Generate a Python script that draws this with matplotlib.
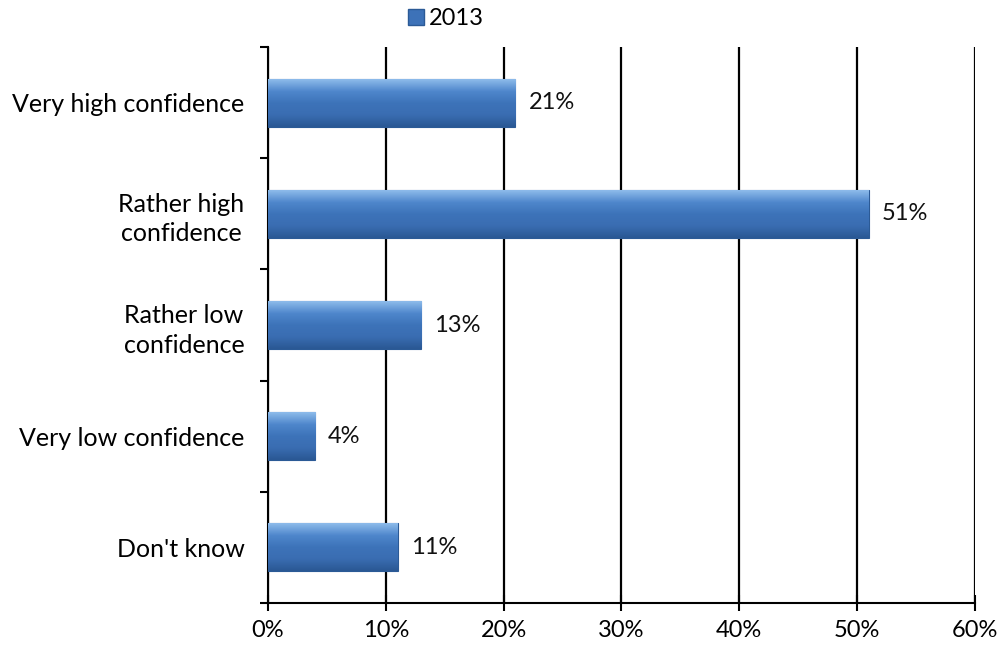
import matplotlib
matplotlib.use("Agg")
import matplotlib.pyplot as plt
import numpy as np
from matplotlib.patches import Patch
from matplotlib.colors import LinearSegmentedColormap

categories = ["Very high confidence", "Rather high\nconfidence", "Rather low\nconfidence",
              "Very low confidence", "Don't know"]
values = [21, 51, 13, 4, 11]
series_name = "2013"
xticks = [0, 10, 20, 30, 40, 50, 60]
xticklabels = ["0%", "10%", "20%", "30%", "40%", "50%", "60%"]

plt.rcParams['font.family'] = ['Lato', 'DejaVu Sans']

fig = plt.figure(figsize=(10.02, 6.55), dpi=100)
ax = fig.add_axes([0.2675, 0.0794, 0.7055, 0.8488])

n = len(categories)
ypos = np.arange(n)
bar_h = 0.43
bars = ax.barh(ypos, values, height=bar_h, color="#3D72B8", edgecolor="#2B5A96",
               linewidth=0.8, zorder=3)

grad = np.linspace(0, 1, 64).reshape(-1, 1)
cmap = LinearSegmentedColormap.from_list("barg", ["#8DBBEA", "#4F87CC", "#3D73B9", "#3A6DB2", "#2A5894"])
for b in bars:
    x0, y0 = b.get_x(), b.get_y()
    w, h = b.get_width(), b.get_height()
    im = ax.imshow(grad, extent=[x0, x0 + w, y0 + h, y0], aspect="auto", cmap=cmap,
                   zorder=3.5, interpolation="bicubic")
    im.set_clip_path(b)

for yv, v in zip(ypos, values):
    ax.text(v + 1.1, yv, f"{v}%", va="center", ha="left", fontsize=17, color="#111111")

ax.set_xlim(0, 60)
ax.set_ylim(n - 0.5, -0.5)
ax.set_xticks(xticks)
ax.set_xticklabels(xticklabels, fontsize=17)
ax.set_yticks(ypos)
ax.set_yticklabels(categories, fontsize=18, ha="right")
ax.tick_params(axis="y", length=0, pad=17)
for lbl in ax.get_yticklabels():
    lbl.set_multialignment("center")
    lbl.set_linespacing(1.35)
ax.set_yticks(np.arange(-0.5, n + 0.5, 1), minor=True)
ax.tick_params(axis="y", which="minor", length=6, width=1.5, direction="out")
ax.tick_params(axis="x", which="major", length=12, width=1.5, direction="inout", pad=6)

ax.grid(axis="x", color="black", linewidth=1.6, zorder=1)
for s in ["top", "right"]:
    ax.spines[s].set_visible(False)
ax.spines["left"].set_linewidth(1.5)
ax.spines["bottom"].set_linewidth(1.5)

handle = Patch(facecolor="#3D72B8", edgecolor="#2B5A96")
fig.legend([handle], [series_name], loc="center", bbox_to_anchor=(0.445, 0.971),
           frameon=False, fontsize=17, handlelength=0.7, handleheight=0.7,
           handletextpad=0.2)

fig.savefig("out.png", dpi=100)
